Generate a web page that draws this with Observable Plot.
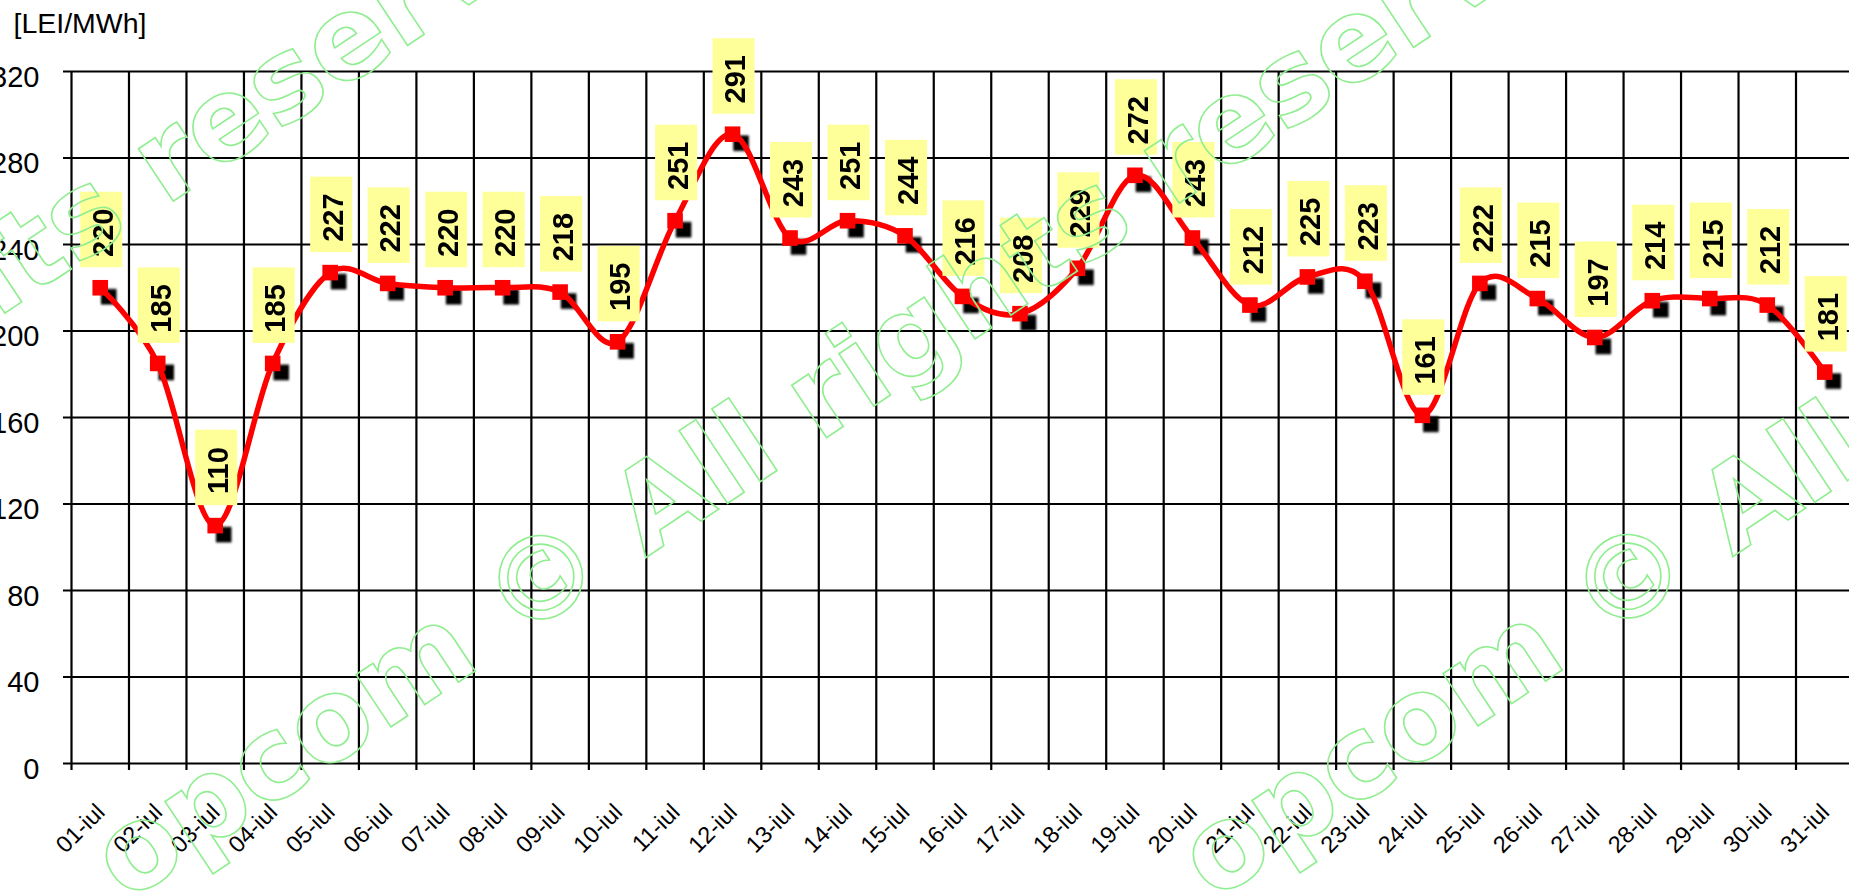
<!DOCTYPE html>
<html>
<head>
<meta charset="utf-8">
<script src="https://cdn.jsdelivr.net/npm/d3@7"></script>
<script src="https://cdn.jsdelivr.net/npm/@observablehq/plot@0.6"></script>
<style>
  html, body { margin: 0; padding: 0; background: #fff; overflow: hidden; }
  #chart { width: 1849px; height: 893px; overflow: hidden; position: relative; background: #fff; }
</style>
</head>
<body>
<div id="chart"></div>
<script>
// ---- data ----
const days = ["01-iul","02-iul","03-iul","04-iul","05-iul","06-iul","07-iul","08-iul","09-iul","10-iul",
              "11-iul","12-iul","13-iul","14-iul","15-iul","16-iul","17-iul","18-iul","19-iul","20-iul",
              "21-iul","22-iul","23-iul","24-iul","25-iul","26-iul","27-iul","28-iul","29-iul","30-iul","31-iul"];
const prices = [220,185,110,185,227,222,220,220,218,195,
                251,291,243,251,244,216,208,229,272,243,
                212,225,223,161,222,215,197,214,215,212,181];
const yTicks = [0,40,80,120,160,200,240,280,320];
const unitLabel = "[LEI/MWh]";
const watermarkText = "opcom © All rights reserved";

// ---- layout / style ----
const watermarkOrigins = [[-880, 901], [126, 903], [1213, 902]];
const watermarkAngle = -33.6;
const font = "'Liberation Sans', Arial, Helvetica, sans-serif";

const data = days.map((day, i) => ({day, i, value: prices[i]}));
const boundaries = d3.range(days.length + 1);
const cx = d => d.i + 0.5;

const plot = Plot.plot({
  width: 1853,
  height: 893,
  marginLeft: 71,
  marginRight: 0,
  marginTop: 71,
  marginBottom: 130,
  style: {fontFamily: font, background: "#fff", color: "#000", overflow: "visible", maxWidth: "none"},
  x: {domain: [0, days.length], axis: null},
  y: {domain: [0, 320], axis: null},
  marks: [
    Plot.ruleY(yTicks, {stroke: "#000", strokeWidth: 2.2, insetLeft: -8}),
    Plot.ruleX(boundaries, {stroke: "#000", strokeWidth: 2.2, insetBottom: -7}),
    Plot.text(yTicks, {y: d => d, text: d => String(d), frameAnchor: "left", textAnchor: "end",
                       lineAnchor: "middle", dx: -32, dy: 6, fontSize: 29, fill: "#000"}),
    Plot.text(data, {x: cx, text: "day", frameAnchor: "bottom", textAnchor: "end", lineAnchor: "bottom",
                     rotate: -45, dx: 6, dy: 50, fontSize: 23.5, fill: "#000"}),
    Plot.text([unitLabel], {frameAnchor: "top-left", textAnchor: "start", lineAnchor: "bottom",
                            dx: -58, dy: -39, fontSize: 28.5, fill: "#000"}),
    Plot.dot(data, {x: cx, y: "value", symbol: "square", r: 8.8, fill: "#000", stroke: null,
                    dx: 8.5, dy: 9, imageFilter: "blur(1.2px)"}),
    Plot.line(data, {x: cx, y: "value", stroke: "#ff0000", strokeWidth: 5.5, curve: "cardinal"}),
    Plot.dot(data, {x: cx, y: "value", symbol: "square", r: 8.8, fill: "#ff0000", stroke: null}),
    Plot.rect(data, {x1: d => d.i, x2: d => d.i + 1, y1: "value", y2: "value",
                     insetLeft: 9.2, insetRight: 6.2, insetTop: -75.5, dy: -20, fill: "#ffff99"}),
    Plot.text(data, {x: cx, y: "value", text: d => String(d.value), rotate: -90, textAnchor: "middle",
                     lineAnchor: "middle", dx: 3.5, dy: -55, fontSize: 29, fontWeight: "bold", fill: "#000"})
  ]
});

document.getElementById("chart").appendChild(plot);

// watermark overlay (outlined text)
const wm = d3.select(plot).append("g")
  .attr("fill", "none")
  .attr("stroke", "#90ee90")
  .attr("stroke-width", 1.6)
  .attr("text-anchor", "start")
  .style("font-family", "'DejaVu Sans', Verdana, sans-serif")
  .style("font-weight", "bold")
  .style("font-size", "115px")
  .style("pointer-events", "none");
wm.selectAll("text").data(watermarkOrigins).join("text")
  .attr("text-anchor", "start")
  .attr("transform", d => `translate(${d[0]},${d[1]}) rotate(${watermarkAngle})`)
  .text(watermarkText);
</script>
</body>
</html>
